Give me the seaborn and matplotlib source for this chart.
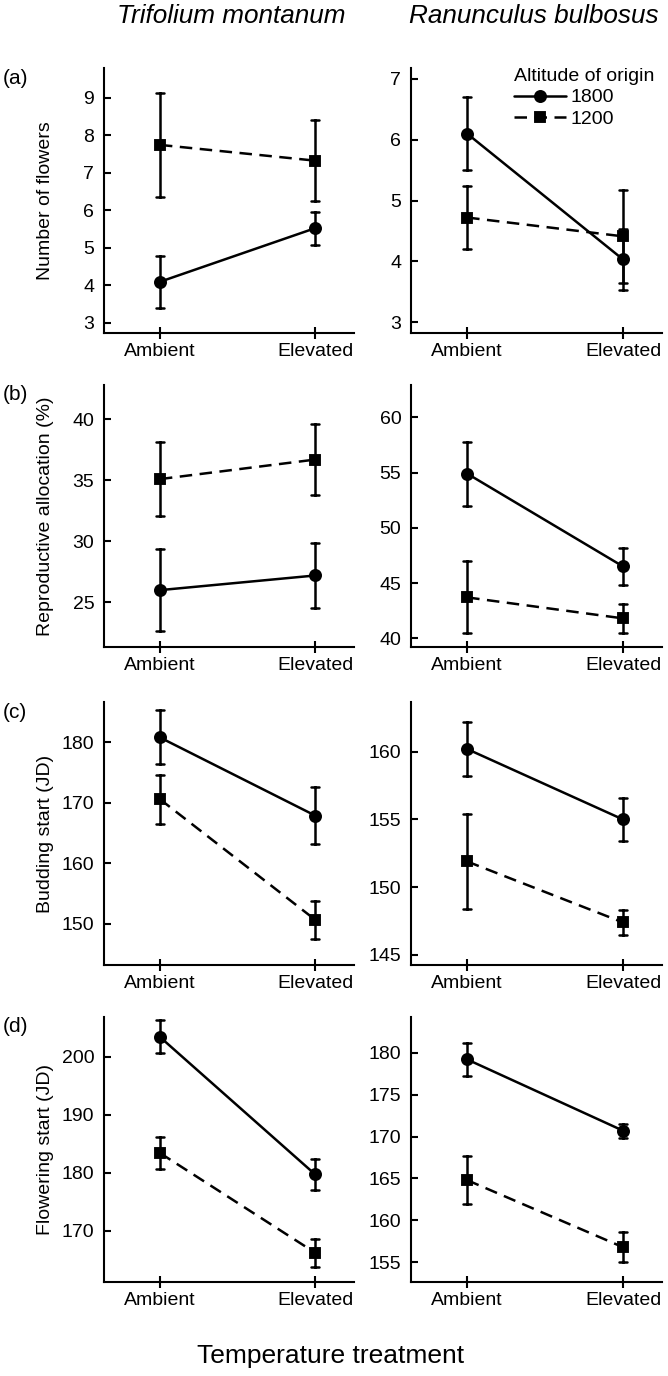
import numpy as np
import pandas as pd
import matplotlib
matplotlib.use("Agg")
import matplotlib.pyplot as plt
import seaborn as sns

# ---------------- data (rows: altitude 1800, 1200; cols: Ambient, Elevated) ----
treatments = ["Ambient", "Elevated"]
altitudes = ["1800", "1200"]
species = ["Trifolium montanum", "Ranunculus bulbosus"]
trait_labels = ["Number of flowers", "Reproductive allocation (%)",
                "Budding start (JD)", "Flowering start (JD)"]
panel_letters = ["(a)", "(b)", "(c)", "(d)"]

flowers_tm_mean = [[4.09, 5.52], [7.74, 7.32]]
flowers_tm_se = [[0.70, 0.44], [1.39, 1.08]]
flowers_rb_mean = [[6.10, 4.03], [4.72, 4.41]]
flowers_rb_se = [[0.60, 0.50], [0.52, 0.77]]

alloc_tm_mean = [[26.0, 27.2], [35.1, 36.7]]
alloc_tm_se = [[3.35, 2.70], [3.05, 2.90]]
alloc_rb_mean = [[54.9, 46.5], [43.7, 41.8]]
alloc_rb_se = [[2.90, 1.70], [3.25, 1.30]]

bud_tm_mean = [[180.8, 167.9], [170.6, 150.7]]
bud_tm_se = [[4.45, 4.75], [4.05, 3.10]]
bud_rb_mean = [[160.2, 155.0], [151.9, 147.4]]
bud_rb_se = [[2.00, 1.60], [3.50, 0.90]]

flow_tm_mean = [[203.4, 179.7], [183.4, 166.2]]
flow_tm_se = [[2.85, 2.70], [2.80, 2.40]]
flow_rb_mean = [[179.2, 170.7], [164.8, 156.8]]
flow_rb_se = [[2.00, 0.85], [2.85, 1.80]]

yticks_tm = [[3, 4, 5, 6, 7, 8, 9], [25, 30, 35, 40], [150, 160, 170, 180], [170, 180, 190, 200]]
yticks_rb = [[3, 4, 5, 6, 7], [40, 45, 50, 55, 60], [145, 150, 155, 160], [155, 160, 165, 170, 175, 180]]
ylims_tm = [(2.725, 9.79), (21.34, 42.81), (143.23, 186.65), (161.16, 206.84)]
ylims_rb = [(2.82, 7.18), (39.21, 62.92), (144.26, 163.67), (152.65, 184.26)]

means = [[flowers_tm_mean, flowers_rb_mean], [alloc_tm_mean, alloc_rb_mean],
         [bud_tm_mean, bud_rb_mean], [flow_tm_mean, flow_rb_mean]]
ses = [[flowers_tm_se, flowers_rb_se], [alloc_tm_se, alloc_rb_se],
       [bud_tm_se, bud_rb_se], [flow_tm_se, flow_rb_se]]


def make_df(mean, se):
    recs = []
    for a, alt in enumerate(altitudes):
        for t, tr in enumerate(treatments):
            m, e = mean[a][t], se[a][t]
            for v in (m - e, m, m + e):
                recs.append({"Temperature": tr, "Altitude": alt, "value": v})
    return pd.DataFrame(recs)


# ---------------- styling ----------------
sns.set_theme(style="ticks")
plt.rcParams["font.family"] = ["Liberation Sans", "DejaVu Sans"]
for k in ("text.color", "axes.labelcolor", "xtick.color", "ytick.color",
          "axes.edgecolor"):
    plt.rcParams[k] = "black"

W, H = 668, 1376
fig = plt.figure(figsize=(W / 100, H / 100), dpi=100)

col_x = [(104, 354), (411, 662)]
row_y = [(68, 333), (385, 647), (702, 965), (1017, 1282)]
FS = 14

for i in range(4):
    for j in range(2):
        l, r = col_x[j]
        yt, yb = row_y[i]
        ax = fig.add_axes([l / W, 1 - yb / H, (r - l) / W, (yb - yt) / H])
        df = make_df(means[i][j], ses[i][j])
        show_leg = (i == 0 and j == 1)
        sns.pointplot(data=df, x="Temperature", y="value", hue="Altitude",
                      order=treatments, hue_order=altitudes,
                      palette=["black", "black"], markers=["o", "s"],
                      linestyles=["-", (0, (5, 3))], estimator="mean",
                      errorbar=lambda v: (v.min(), v.max()),
                      capsize=0.055, err_kws={"linewidth": 1.8},
                      linewidth=1.8, markersize=8, dodge=False,
                      legend=show_leg, ax=ax)
        for ln in ax.lines:
            if ln.get_marker() == "s":
                ln.set_markersize(7)
        ax.set_xlim(-0.36, 1.25)
        ylims = ylims_tm if j == 0 else ylims_rb
        yticks = yticks_tm if j == 0 else yticks_rb
        ax.set_ylim(*ylims[i])
        ax.set_yticks(yticks[i])
        ax.set_yticklabels([str(t) for t in yticks[i]])
        ax.set_xlabel("")
        if j == 0:
            ax.set_ylabel(trait_labels[i], fontsize=FS)
            ax.yaxis.set_label_coords(-0.2, 0.5)
        else:
            ax.set_ylabel("")
        sns.despine(ax=ax)
        for s in ("left", "bottom"):
            ax.spines[s].set_linewidth(1.5)
        ax.tick_params(axis="x", direction="inout", length=9, width=1.5,
                       labelsize=FS, pad=3)
        ax.tick_params(axis="y", direction="in", length=5, width=1.5,
                       labelsize=FS, pad=7)
        if show_leg:
            sns.move_legend(ax, "upper right", bbox_to_anchor=(1.0, 1.03),
                            title="Altitude of origin", frameon=False,
                            fontsize=FS, title_fontsize=FS,
                            handlelength=2.7, handletextpad=0.2,
                            labelspacing=0.2, borderaxespad=0)
            leg = ax.get_legend()
            leg._legend_box.align = "left"
            for h in leg.legend_handles:
                if h.get_marker() == "s":
                    h.set_markersize(7)
        if j == 0:
            fig.text(3 / W, 1 - (yt + 10) / H, panel_letters[i],
                     fontsize=15, ha="left", va="center")

fig.text(231 / W, 1 - 16 / H, species[0], fontsize=18.8, style="italic",
         ha="center", va="center")
fig.text(534 / W, 1 - 16 / H, species[1], fontsize=18.8, style="italic",
         ha="center", va="center")
fig.text(331 / W, 1 - 1356 / H, "Temperature treatment", fontsize=19,
         ha="center", va="center")

fig.savefig("out.png", dpi=100)
